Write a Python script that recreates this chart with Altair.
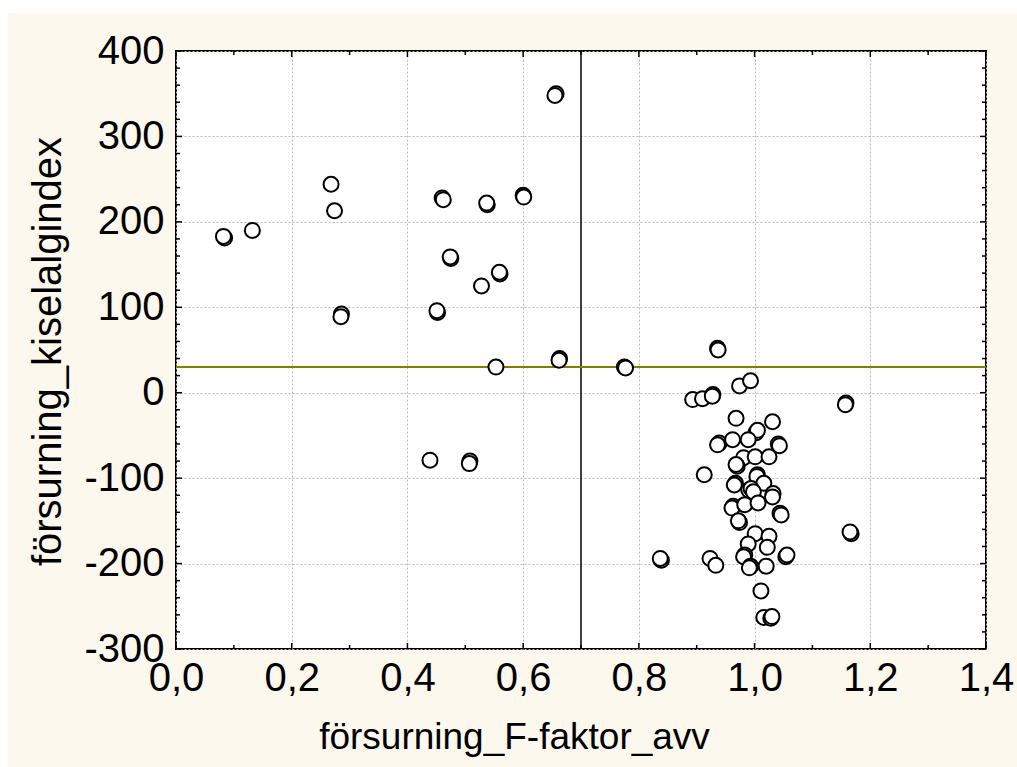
import altair as alt
import pandas as pd

# ---- data ----
xs = [0.084, 0.082, 0.132, 0.268, 0.274, 0.286, 0.285,
      0.657, 0.655, 0.460, 0.462, 0.538, 0.537, 0.600, 0.601,
      0.475, 0.474, 0.560, 0.559, 0.528, 0.452, 0.451,
      0.553, 0.663, 0.662, 0.775, 0.777, 0.439, 0.508, 0.507,
      0.936, 0.937, 0.974, 0.993, 0.893, 0.910, 0.928, 0.927,
      0.968, 1.031, 1.002, 1.005, 0.939, 0.936, 0.962, 0.989,
      1.041, 1.043, 0.981, 1.001, 1.025, 0.970, 0.968, 0.913,
      1.005, 1.004, 0.967, 0.965, 1.016, 0.990, 0.994, 0.998,
      1.032, 0.963, 0.961, 0.983, 1.006, 1.031, 1.044, 1.046,
      0.974, 0.972, 1.001, 1.025, 0.989, 1.022, 0.983, 0.981,
      1.054, 1.056, 0.923, 0.933, 0.993, 0.991, 1.020,
      1.011, 1.016, 1.028, 1.030, 0.839, 0.837, 1.158, 1.157,
      1.167, 1.165]
ys = [181, 183, 190, 244, 213, 92, 89,
      350, 348, 228, 226, 220, 222, 231, 229,
      157, 159, 139, 141, 125, 94, 96,
      30, 40, 38, 30, 29, -79, -80, -83,
      52, 50, 8, 14, -8, -7, -2, -4,
      -30, -34, -47, -44, -59, -61, -55, -55,
      -60, -62, -76, -75, -75, -86, -84, -96,
      -96, -98, -106, -108, -106, -114, -112, -116,
      -118, -133, -135, -131, -129, -122, -141, -143,
      -152, -150, -165, -168, -177, -181, -190, -192,
      -192, -190, -194, -202, -203, -205, -203,
      -232, -263, -264, -262, -196, -194, -12, -14,
      -165, -163]

x_major = [0.0, 0.2, 0.4, 0.6, 0.8, 1.0, 1.2, 1.4]
x_minor = [0.1, 0.3, 0.5, 0.7, 0.9, 1.1, 1.3]
y_major = [-300, -200, -100, 0, 100, 200, 300, 400]
y_minor = [v for v in range(-280, 400, 20) if v % 100 != 0]

x_ref = [0.7]
y_ref = [30]

x_title = "försurning_F-faktor_avv"
y_title = "försurning_kiselalgindex"

W, H = 810, 598
FONT = "Liberation Sans"
CREAM = "#fdf8ee"

pts = pd.DataFrame({"x": xs, "y": ys})
xscale = alt.Scale(domain=[0, 1.4], nice=False, zero=False)
yscale = alt.Scale(domain=[-300, 400], nice=False, zero=False)

xaxis = alt.Axis(values=x_major, grid=True,
                 labelExpr="replace(format(datum.value, '.1f'), '.', ',')",
                 labelPadding=9,
                 title=x_title, titleFontSize=37, titleX=338, titleY=99,
                 titleAlign="center", titleBaseline="alphabetic")
yaxis = alt.Axis(values=y_major, grid=True,
                 labelExpr="'' + datum.value",
                 labelPadding=12, labelBaseline="middle",
                 title=y_title, titleFontSize=40, titleAngle=270, titleX=-116,
                 titleY=300, titleAlign="center", titleBaseline="alphabetic")

one = pd.DataFrame({"a": [0]})

# white strips at the page edge (outside the cream panel)
strip_left = alt.Chart(one).mark_rect(color="white").encode(
    x=alt.value(-176), x2=alt.value(-168), y=alt.value(-51), y2=alt.value(H + 118))
strip_top = alt.Chart(one).mark_rect(color="white").encode(
    x=alt.value(-176), x2=alt.value(W + 31), y=alt.value(-51), y2=alt.value(-38))

vline = alt.Chart(pd.DataFrame({"x": x_ref})).mark_rule(color="black", strokeWidth=1.5).encode(
    x=alt.X("x:Q", scale=xscale, axis=xaxis))
hline = alt.Chart(pd.DataFrame({"y": y_ref})).mark_rule(color="#808000", strokeWidth=2).encode(
    y=alt.Y("y:Q", scale=yscale, axis=yaxis))


def xticks(vals, length):
    d = pd.DataFrame({"x": vals})
    bottom = alt.Chart(d).mark_rule(color="black", strokeWidth=1.5).encode(
        x=alt.X("x:Q", scale=xscale, axis=xaxis), y=alt.value(H), y2=alt.value(H - length))
    top = alt.Chart(d).mark_rule(color="black", strokeWidth=1.5).encode(
        x=alt.X("x:Q", scale=xscale, axis=xaxis), y=alt.value(0), y2=alt.value(length))
    return [bottom, top]


def yticks(vals, length):
    d = pd.DataFrame({"y": vals})
    left = alt.Chart(d).mark_rule(color="black", strokeWidth=1.5).encode(
        y=alt.Y("y:Q", scale=yscale, axis=yaxis), x=alt.value(0), x2=alt.value(length))
    right = alt.Chart(d).mark_rule(color="black", strokeWidth=1.5).encode(
        y=alt.Y("y:Q", scale=yscale, axis=yaxis), x=alt.value(W), x2=alt.value(W - length))
    return [left, right]


points = alt.Chart(pts).mark_circle(
    fill="white", stroke="black", strokeWidth=2, size=225, opacity=1
).encode(
    x=alt.X("x:Q", scale=xscale, axis=xaxis),
    y=alt.Y("y:Q", scale=yscale, axis=yaxis),
)

layers = [strip_left, strip_top, vline, hline] + \
    xticks(x_major, 6) + xticks(x_minor, 4) + yticks(y_major, 6) + yticks(y_minor, 4) + \
    [points]

chart = alt.layer(*layers).properties(
    width=W, height=H,
    autosize=alt.AutoSizeParams(type="none"),
    padding={"left": 176, "top": 51, "right": 31, "bottom": 118},
    background=CREAM,
).configure_view(
    fill="white", stroke="black", strokeWidth=2
).configure_axis(
    labelFont=FONT, labelFontSize=40, labelColor="black",
    titleFont=FONT, titleFontWeight="normal", titleColor="black",
    gridColor="#b8b8b8", gridDash=[2, 2], gridWidth=1,
    ticks=False, domain=False, labelFlush=False, labelOverlap=False,
)

chart.save("out.html", embed_options={"renderer": "svg", "actions": False})
